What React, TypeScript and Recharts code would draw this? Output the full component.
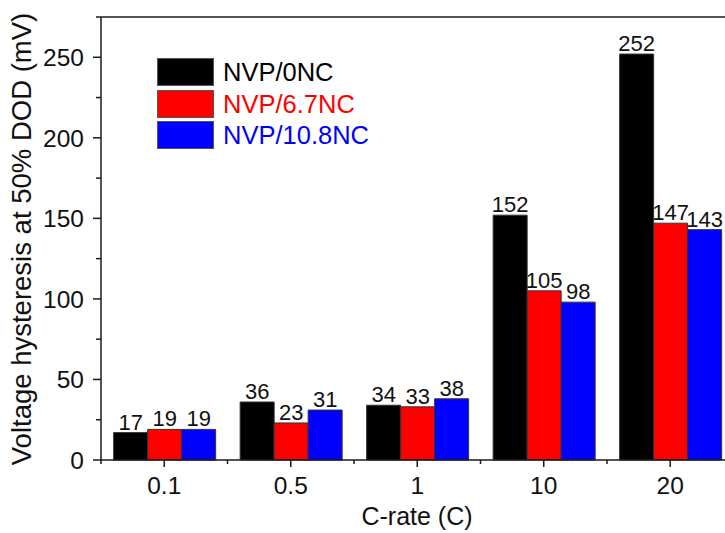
import React from 'react';
import { BarChart, Bar, XAxis, YAxis, LabelList, ReferenceLine, Legend } from 'recharts';

// C-rate categories and hysteresis values (mV) at 50% DOD
const cRates = ['0.1', '0.5', '1', '10', '20'];
const nvp0NC = [17, 36, 34, 152, 252];
const nvp67NC = [19, 23, 33, 105, 147];
const nvp108NC = [19, 31, 38, 98, 143];
const yTicks = [0, 25, 50, 75, 100, 125, 150, 175, 200, 225, 250, 275];
const yMax = 275;

const seriesNames = ['NVP/0NC', 'NVP/6.7NC', 'NVP/10.8NC'];
const seriesKeys = ['s0', 's1', 's2'];
const seriesColors = ['#000000', '#ff0000', '#0000ff'];

const data = cRates.map((rate, i) => ({
  rate,
  s0: nvp0NC[i],
  s1: nvp67NC[i],
  s2: nvp108NC[i],
}));

const FONT = '"Liberation Sans", Arial, Helvetica, sans-serif';
const AXIS = '#1a1a1a';
const CHART_W = 760;
const CHART_H = 533;
const Y_W = 101;
const X_H = 73;
const MARGIN = { top: 17, right: 26.5, bottom: 0, left: 0 };
const PLOT_BOTTOM = CHART_H - X_H;
const BAND = (CHART_W - MARGIN.right - Y_W) / cRates.length;

const YTick = (props: any) => {
  const { y, payload } = props;
  const v = payload.value as number;
  const major = v % 50 === 0;
  return (
    <g>
      <line x1={Y_W} x2={Y_W - (major ? 8 : 5)} y1={y} y2={y} stroke={AXIS} strokeWidth={1.5} />
      {major && v <= 250 && (
        <text x={84} y={y + 8.8} textAnchor="end" fontSize={24.5} fontFamily={FONT} fill="#111">
          {v}
        </text>
      )}
    </g>
  );
};

const XTick = (props: any) => {
  const { x, payload } = props;
  const left = x - BAND / 2;
  return (
    <g>
      <line x1={x} x2={x} y1={PLOT_BOTTOM} y2={PLOT_BOTTOM + 7} stroke={AXIS} strokeWidth={1.5} />
      <line x1={left} x2={left} y1={PLOT_BOTTOM} y2={PLOT_BOTTOM + 4} stroke={AXIS} strokeWidth={1.5} />
      <text x={x} y={494} textAnchor="middle" fontSize={24.5} fontFamily={FONT} fill="#111">
        {payload.value}
      </text>
    </g>
  );
};

const LegendBox = () => (
  <div style={{ fontFamily: FONT }}>
    {seriesNames.map((name, i) => (
      <div key={name} style={{ display: 'flex', alignItems: 'center', height: 31.7 }}>
        <div
          style={{
            width: 55,
            height: 26,
            background: seriesColors[i],
            border: '1px solid #555',
          }}
        />
        <span style={{ marginLeft: 9, fontSize: 25.5, color: seriesColors[i], lineHeight: '28px' }}>{name}</span>
      </div>
    ))}
  </div>
);

export default function App() {
  return (
    <div style={{ position: 'absolute', left: 0, top: 0, width: 725, height: 533, overflow: 'hidden', background: '#fff' }}>
      <BarChart
        width={CHART_W}
        height={CHART_H}
        data={data}
        margin={MARGIN}
        barCategoryGap="10%"
        barGap={0}
      >
        <XAxis
          dataKey="rate"
          height={X_H}
          axisLine={{ stroke: AXIS, strokeWidth: 1.5 }}
          tickLine={false}
          tick={<XTick />}
          interval={0}
          label={{
            content: () => (
              <text x={417} y={525} textAnchor="middle" fontSize={25} fontFamily={FONT} fill="#111">
                C-rate (C)
              </text>
            ),
          }}
        />
        <YAxis
          width={Y_W}
          domain={[0, yMax]}
          ticks={yTicks}
          interval={0}
          axisLine={{ stroke: AXIS, strokeWidth: 1.5 }}
          tickLine={false}
          tick={<YTick />}
          label={{
            content: () => (
              <text
                x={31}
                y={239}
                textAnchor="middle"
                fontSize={27.5}
                fontFamily={FONT}
                fill="#111"
                transform="rotate(-90, 31, 239)"
              >
                Voltage hysteresis at 50% DOD (mV)
              </text>
            ),
          }}
        />
        <ReferenceLine y={yMax} stroke={AXIS} strokeWidth={1.5} ifOverflow="visible" />
        <Legend
          layout="vertical"
          align="center"
          verticalAlign="middle"
          content={<LegendBox />}
          wrapperStyle={{ position: 'absolute', left: 157, top: 56, width: 'auto', height: 'auto' }}
        />
        {seriesKeys.map((k, i) => (
          <Bar
            key={k}
            dataKey={k}
            name={seriesNames[i]}
            fill={seriesColors[i]}
            stroke="#333"
            strokeWidth={1}
            isAnimationActive={false}
          >
            <LabelList dataKey={k} position="top" offset={3} fontSize={22} fontFamily={FONT} fill="#111" />
          </Bar>
        ))}
      </BarChart>
    </div>
  );
}
